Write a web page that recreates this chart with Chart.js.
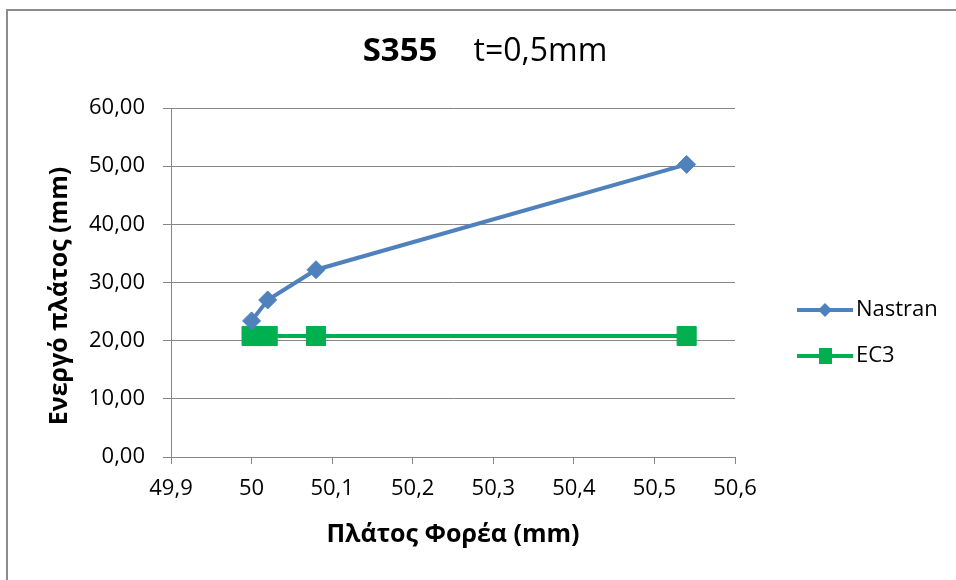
<!DOCTYPE html>
<html>
<head>
<meta charset="utf-8">
<script src="https://cdn.jsdelivr.net/npm/chart.js@4.4.0/dist/chart.umd.min.js"></script>
<style>
  html, body { margin: 0; padding: 0; background: #fff; }
  #wrap { width: 956px; height: 580px; position: relative; }
</style>
</head>
<body>
<div id="wrap"><canvas id="c" width="956" height="580"></canvas></div>
<script>
// Beam width (mm) against effective width (mm) for S355, t = 0.5 mm
const widths  = [50.00, 50.02, 50.08, 50.54];
const nastran = [23.4, 27.0, 32.2, 50.3];
const ec3     = [20.8, 20.8, 20.8, 20.8];
const seriesNames = ['Nastran', 'EC3'];
const titleBold = 'S355';
const titleRest = 't=0,5mm';
const xTitle = 'Πλάτος Φορέα (mm)';
const yTitle = 'Ενεργό πλάτος (mm)';

const FONT = '"Open Sans", "Noto Sans", sans-serif';
const BLUE = '#4F81BD';
const GREEN = '#00B050';
const GRID = '#868686';

const toPairs = (xs, ys) => xs.map((x, i) => ({ x: x, y: ys[i] }));

// Frame, two-part title, rotated y-axis title and the legend on the right
const decor = {
  id: 'decor',
  afterDraw(chart) {
    const ctx = chart.ctx;
    ctx.save();
    // chart frame (its right and bottom edges run past the canvas)
    ctx.strokeStyle = '#8c8c8c';
    ctx.lineWidth = 2;
    ctx.strokeRect(7, 10, 2000, 2000);

    // title
    ctx.fillStyle = '#000';
    ctx.textBaseline = 'middle';
    ctx.font = 'bold 33px ' + FONT;
    const wB = ctx.measureText(titleBold).width;
    ctx.font = '32px ' + FONT;
    const wR = ctx.measureText(titleRest).width;
    const gap = 36;
    const x0 = 485 - (wB + gap + wR) / 2;
    ctx.textAlign = 'left';
    ctx.font = 'bold 33px ' + FONT;
    ctx.fillText(titleBold, x0, 52);
    ctx.font = '32px ' + FONT;
    ctx.fillText(titleRest, x0 + wB + gap, 52);

    // y-axis title
    ctx.save();
    ctx.translate(60, 296);
    ctx.rotate(-Math.PI / 2);
    ctx.font = 'bold 25px ' + FONT;
    ctx.textAlign = 'center';
    ctx.textBaseline = 'middle';
    ctx.fillText(yTitle, 0, 0);
    ctx.restore();

    // legend
    const rows = [310, 356];
    chart.data.datasets.forEach((ds, i) => {
      const y = rows[i];
      ctx.strokeStyle = ds.borderColor;
      ctx.lineWidth = 4;
      ctx.beginPath();
      ctx.moveTo(797, y);
      ctx.lineTo(853, y);
      ctx.stroke();
      ctx.fillStyle = ds.borderColor;
      if (ds.pointStyle === 'rectRot') {
        ctx.beginPath();
        ctx.moveTo(825, y - 7);
        ctx.lineTo(832, y);
        ctx.lineTo(825, y + 7);
        ctx.lineTo(818, y);
        ctx.closePath();
        ctx.fill();
      } else {
        ctx.fillRect(819, y - 8, 13, 16);
      }
      ctx.fillStyle = '#000';
      ctx.font = '22px ' + FONT;
      ctx.textAlign = 'left';
      ctx.textBaseline = 'middle';
      ctx.fillText(ds.label, 856, y);
    });
    ctx.restore();
  }
};

new Chart(document.getElementById('c'), {
  type: 'scatter',
  data: {
    datasets: [
      {
        label: seriesNames[0],
        data: toPairs(widths, nastran),
        showLine: true,
        borderColor: BLUE,
        backgroundColor: BLUE,
        borderWidth: 4,
        pointStyle: 'rectRot',
        pointRadius: 9,
        pointHoverRadius: 9,
        pointBorderWidth: 1,
        tension: 0
      },
      {
        label: seriesNames[1],
        data: toPairs(widths, ec3),
        showLine: true,
        borderColor: GREEN,
        backgroundColor: GREEN,
        borderWidth: 4,
        pointStyle: 'rect',
        pointRadius: 13.5,
        pointHoverRadius: 13.5,
        pointBorderWidth: 1,
        tension: 0
      }
    ]
  },
  options: {
    responsive: false,
    animation: false,
    layout: { padding: { left: 0, top: 108, right: 221, bottom: 0 } },
    plugins: {
      legend: { display: false },
      title: { display: false },
      tooltip: { enabled: false }
    },
    scales: {
      x: {
        type: 'linear',
        min: 49.9,
        max: 50.6,
        ticks: {
          stepSize: 0.1,
          color: '#000',
          padding: 12,
          font: { family: FONT, size: 22 },
          maxRotation: 0,
          callback: v => String(Number(v.toFixed(1))).replace('.', ',')
        },
        grid: { drawOnChartArea: false, drawTicks: true, tickLength: 7, color: GRID },
        border: { color: GRID, width: 1 },
        title: {
          display: true,
          text: xTitle,
          color: '#000',
          font: { family: FONT, size: 25, weight: 'bold' },
          padding: { top: 0, bottom: 30 }
        },
        afterFit(scale) { scale.height = 123; }
      },
      y: {
        min: 0,
        max: 60,
        ticks: {
          stepSize: 10,
          color: '#000',
          padding: 18,
          font: { family: FONT, size: 22 },
          callback: v => v.toFixed(2).replace('.', ',')
        },
        grid: { color: GRID, tickLength: 8 },
        border: { color: GRID, width: 1 },
        title: { display: false },
        afterFit(scale) { scale.width = 171; }
      }
    }
  },
  plugins: [decor]
});
</script>
</body>
</html>
